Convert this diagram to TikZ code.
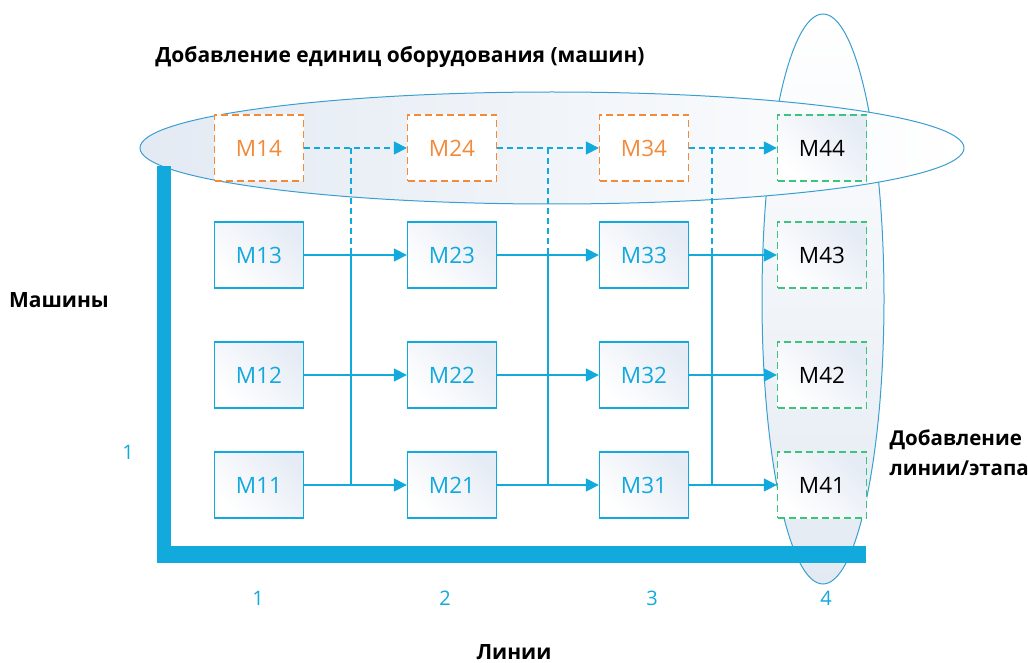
\documentclass[tikz,border=0pt]{standalone}
\usepackage{fontspec}
\setmainfont{Open Sans}
\usetikzlibrary{arrows.meta}
\definecolor{cblue}{HTML}{12A9DC}
\definecolor{corange}{HTML}{F28A3A}
\definecolor{cgreen}{HTML}{3CC47C}
\definecolor{cgray}{HTML}{E3EAF3}
\definecolor{cboxgray}{HTML}{E6ECF5}
\definecolor{cline}{HTML}{3A9FD0}
\tikzset{
  box/.style={draw=cblue, line width=1.3pt, minimum width=89pt, minimum height=66pt,
    inner sep=0pt, top color=cboxgray, bottom color=white, shading angle=-45,
    text=cblue, font=\fontsize{22.5}{24}\selectfont},
  newbox/.style={box, draw=corange, dashed, dash pattern=on 7pt off 4pt, text=corange, top color=white, bottom color=white},
  linebox/.style={box, draw=cgreen, dashed, dash pattern=on 7pt off 4pt, text=black},
  conn/.style={draw=cblue, line width=1.3pt},
  arr/.style={conn, -{Triangle[length=13pt,width=13pt]}},
  dconn/.style={conn, dashed, dash pattern=on 6pt off 4pt},
  darr/.style={arr, dashed, dash pattern=on 6pt off 4pt},
  bold/.style={font=\bfseries\fontsize{21}{30}\selectfont, text=black},
  num/.style={font=\fontsize{20}{22}\selectfont, text=cblue},
  ell/.style={draw=cline, line width=1pt}
}
\begin{document}
\begin{tikzpicture}[x=1pt,y=-1pt]
\useasboundingbox (0,0) rectangle (1028,663);
% ellipses
\path[ell, top color=white, bottom color=cgray] (823,299) ellipse [x radius=61, y radius=285];
\path[ell, left color=cgray, right color=white] (552,148) ellipse [x radius=412, y radius=56];
% axes
\fill[cblue] (157,166) rectangle (171,563);
\fill[cblue] (157,546) rectangle (866,563);
% boxes
\node[box] (M11) at (259,485) {M11};
\node[box] (M12) at (259,375) {M12};
\node[box] (M13) at (259,255) {M13};
\node[newbox] (M14) at (259,148) {M14};
\node[box] (M21) at (452,485) {M21};
\node[box] (M22) at (452,375) {M22};
\node[box] (M23) at (452,255) {M23};
\node[newbox] (M24) at (452,148) {M24};
\node[box] (M31) at (644,485) {M31};
\node[box] (M32) at (644,375) {M32};
\node[box] (M33) at (644,255) {M33};
\node[newbox] (M34) at (644,148) {M34};
\node[linebox] (M41) at (822,485) {M41};
\node[linebox] (M42) at (822,375) {M42};
\node[linebox] (M43) at (822,255) {M43};
\node[linebox] (M44) at (822,148) {M44};
% buses
\coordinate (b1) at (351,0);
\coordinate (b2) at (548,0);
\coordinate (b3) at (712,0);
\foreach \b in {b1,b2,b3}{
  \draw[dconn] (\b |- M14.east) -- (\b |- M13.east);
  \draw[conn] (\b |- M13.east) -- (\b |- M11.east);
}
% arrows
\foreach \r in {1,2,3}{
  \draw[arr] (M1\r.east) -- (M2\r.west);
  \draw[arr] (M2\r.east) -- (M3\r.west);
  \draw[arr] (M3\r.east) -- (M4\r.west);
}
\draw[darr] (M14.east) -- (M24.west);
\draw[darr] (M24.east) -- (M34.west);
\draw[darr] (M34.east) -- (M44.west);
% labels
\node[bold] (t1) at (400,57) {Добавление единиц оборудования (машин)};
\node[bold] (t2) at (59,300) {Машины};
\node[bold, anchor=west, align=left, font=\bfseries\fontsize{20.5}{30}\selectfont] (t3) at (886,453) {Добавление\\линии/этапа};
\node[bold] (t4) at (514,652) {Линии};
\node[num] (n0) at (128,452) {1};
\node[num] (n1) at (258,598) {1};
\node[num] (n2) at (445,598) {2};
\node[num] (n3) at (652,598) {3};
\node[num] (n4) at (826,598) {4};
\end{tikzpicture}
\end{document}
